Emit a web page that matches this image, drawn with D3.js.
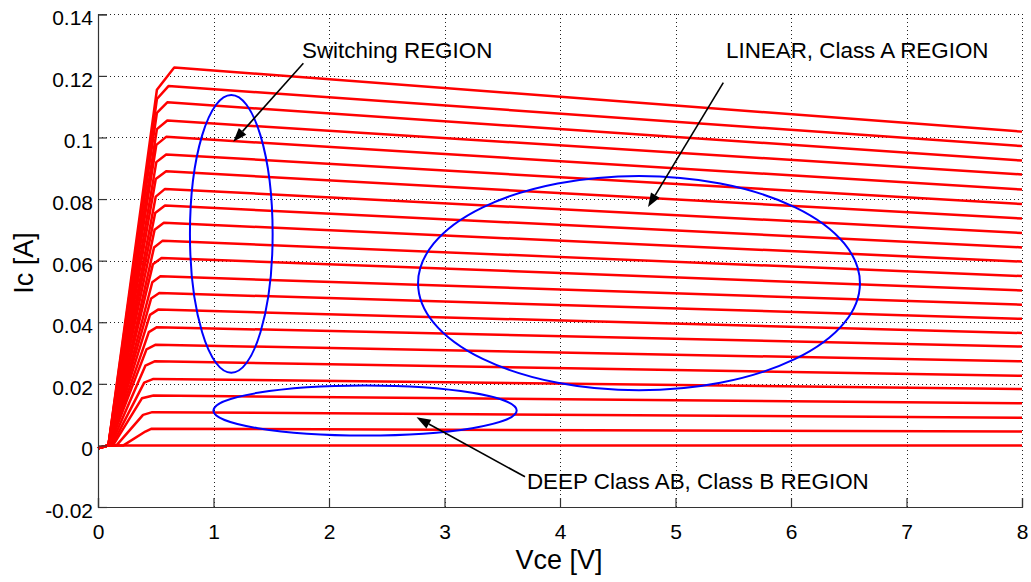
<!DOCTYPE html>
<html>
<head>
<meta charset="utf-8">
<script src="https://cdn.jsdelivr.net/npm/d3@7"></script>
<style>
  body { margin: 0; background: #fff; }
  svg { display: block; }
</style>
</head>
<body>
<div id="chart"></div>
<script>
const xTicks = [0, 1, 2, 3, 4, 5, 6, 7, 8];
const yTicks = [-0.02, 0, 0.02, 0.04, 0.06, 0.08, 0.1, 0.12, 0.14];

// leakage bit near the origin, shared by every curve
const leakV = [0, 0.09];
const leakI = [-0.0009, 0];

// one entry per base-current step (bottom to top)
const vStart = [0.22, 0.16, 0.13, 0.12, 0.11, 0.10, 0.10, 0.10, 0.10, 0.10, 0.10,
                0.10, 0.095, 0.095, 0.095, 0.095, 0.09, 0.09, 0.09, 0.09, 0.09, 0.09];
const vBend  = [0.41, 0.39, 0.38, 0.40, 0.41, 0.42, 0.44, 0.45, 0.46, 0.47, 0.475,
                0.485, 0.49, 0.495, 0.50, 0.50, 0.505, 0.505, 0.51, 0.51, 0.51, 0.51];
const icBend = [0.0045, 0.0099, 0.0153, 0.0204, 0.0259, 0.0312, 0.0368, 0.0424, 0.0477, 0.0530, 0.0588,
                0.0643, 0.0700, 0.0755, 0.0808, 0.0865, 0.0920, 0.0976, 0.1027, 0.1080, 0.1125, 0.1155];
const vFlat  = [0.46, 0.47, 0.48, 0.48, 0.49, 0.50, 0.51, 0.52, 0.53, 0.54, 0.55,
                0.56, 0.57, 0.58, 0.58, 0.59, 0.59, 0.59, 0.60, 0.60, 0.61, 0.66];
const icFlat = [0.0054, 0.0108, 0.0162, 0.0216, 0.0273, 0.0327, 0.0384, 0.0441, 0.0495, 0.0549, 0.0609,
                0.0665, 0.0723, 0.0779, 0.0833, 0.0890, 0.0945, 0.1002, 0.1055, 0.1114, 0.1167, 0.1227];
const icEnd  = [0.0045, 0.0090, 0.0137, 0.0183, 0.0226, 0.0273, 0.0321, 0.0365, 0.0411, 0.0457, 0.0503,
                0.0550, 0.0597, 0.0643, 0.0690, 0.0737, 0.0784, 0.0831, 0.0880, 0.0925, 0.0972, 0.1019];
const vEnd = 8;

// annotations, in data units (V, A)
const regions = [
  { cx: 1.154, cy: 0.0687, rx: 0.358, ry: 0.0451 },
  { cx: 4.684, cy: 0.0527, rx: 1.913, ry: 0.0348 },
  { cx: 2.312, cy: 0.01133, rx: 1.313, ry: 0.00812 }
];
const arrows = [
  { from: [1.778, 0.1241], to: [1.171, 0.0986] },
  { from: [5.414, 0.1178], to: [4.762, 0.0774] },
  { from: [3.697, -0.0102], to: [2.758, 0.00913] }
];
const notes = [
  { text: "Switching REGION", at: [1.766, 0.1258] },
  { text: "LINEAR, Class A REGION", at: [5.437, 0.1258] },
  { text: "DEEP Class AB, Class B REGION", at: [3.714, -0.01426] }
];

const width = 1031, height = 582;
const margin = { top: 14.3, right: 9, bottom: 75, left: 98 };
const font = "'Liberation Sans', Arial, Helvetica, sans-serif";

const x = d3.scaleLinear().domain([0, 8]).range([margin.left, width - margin.right]);
const y = d3.scaleLinear().domain([-0.02, 0.14]).range([height - margin.bottom, margin.top]);

const svg = d3.select("#chart")
  .append("svg")
  .attr("width", width)
  .attr("height", height)
  .style("font-family", font);

// dotted grid
const grid = svg.append("g")
  .attr("stroke", "#222")
  .attr("stroke-width", 1)
  .attr("stroke-dasharray", "1,3")
  .attr("shape-rendering", "crispEdges");

grid.selectAll("line.gx")
  .data(xTicks.filter(d => d > 0))
  .join("line")
  .attr("x1", d => Math.round(x(d)) + 0.5).attr("x2", d => Math.round(x(d)) + 0.5)
  .attr("y1", y(-0.02)).attr("y2", y(0.14));

grid.selectAll("line.gy")
  .data(yTicks.filter(d => d > -0.02))
  .join("line")
  .attr("y1", d => Math.round(y(d)) + 0.5).attr("y2", d => Math.round(y(d)) + 0.5)
  .attr("x1", x(0)).attr("x2", x(8));

// curves
const line = d3.line().x(d => x(d[0])).y(d => y(d[1]));
const curves = [[[leakV[0], leakI[0]], [leakV[1], leakI[1]], [vEnd, 0]]];
icFlat.forEach((ic, i) => {
  curves.push([
    [leakV[0], leakI[0]], [leakV[1], leakI[1]],
    [vStart[i], 0], [vBend[i], icBend[i]], [vFlat[i], ic], [vEnd, icEnd[i]]
  ]);
});

svg.append("g")
  .selectAll("path")
  .data(curves)
  .join("path")
  .attr("d", line)
  .attr("fill", "none")
  .attr("stroke", "#ff0000")
  .attr("stroke-width", 2.5)
  .attr("stroke-linejoin", "round");

// axes (left and bottom only, ticks inside)
const xAxis = d3.axisBottom(x).tickValues(xTicks).tickSize(-9).tickPadding(17)
  .tickFormat(d3.format("d"));
const yAxis = d3.axisLeft(y).tickValues(yTicks).tickSize(-9).tickPadding(5)
  .tickFormat(d => d === 0 ? "0" : String(+d.toFixed(2)));

const gx = svg.append("g")
  .attr("transform", `translate(0,${y(-0.02)})`)
  .call(xAxis);
const gy = svg.append("g")
  .attr("transform", `translate(${x(0)},0)`)
  .call(yAxis);

[gx, gy].forEach(g => {
  g.select(".domain").attr("stroke", "#333").attr("stroke-width", 1.2);
  g.selectAll(".tick line").attr("stroke", "#333").attr("stroke-width", 1.2);
  g.selectAll(".tick text")
    .attr("fill", "#000")
    .style("font-family", font)
    .style("font-size", "21px");
});
gy.selectAll(".tick text").attr("dy", "0.5em");
gx.selectAll(".tick text").attr("dy", "0.71em");

// region ellipses
svg.append("g")
  .selectAll("ellipse")
  .data(regions)
  .join("ellipse")
  .attr("cx", d => x(d.cx))
  .attr("cy", d => y(d.cy))
  .attr("rx", d => x(d.cx + d.rx) - x(d.cx))
  .attr("ry", d => y(d.cy) - y(d.cy + d.ry))
  .attr("fill", "none")
  .attr("stroke", "#0000ff")
  .attr("stroke-width", 2);

// arrows
const ga = svg.append("g");
arrows.forEach(a => {
  const x1 = x(a.from[0]), y1 = y(a.from[1]);
  const x2 = x(a.to[0]), y2 = y(a.to[1]);
  const ang = Math.atan2(y2 - y1, x2 - x1);
  const len = 14, half = 5;
  const bx = x2 - len * Math.cos(ang), by = y2 - len * Math.sin(ang);
  ga.append("line")
    .attr("x1", x1).attr("y1", y1)
    .attr("x2", bx).attr("y2", by)
    .attr("stroke", "#000")
    .attr("stroke-width", 1.6);
  const head = [
    [x2, y2],
    [bx + half * Math.sin(ang), by - half * Math.cos(ang)],
    [bx - half * Math.sin(ang), by + half * Math.cos(ang)]
  ];
  ga.append("path")
    .attr("d", d3.line()(head) + "Z")
    .attr("fill", "#000");
});

// annotation text
svg.append("g")
  .selectAll("text")
  .data(notes)
  .join("text")
  .attr("x", d => x(d.at[0]))
  .attr("y", d => y(d.at[1]))
  .attr("font-size", "22.4px")
  .attr("fill", "#000")
  .text(d => d.text);

// axis titles
svg.append("text")
  .attr("x", 559)
  .attr("y", 569)
  .attr("text-anchor", "middle")
  .attr("font-size", "27px")
  .text("Vce [V]");

svg.append("text")
  .attr("transform", "translate(33,263) rotate(-90)")
  .attr("text-anchor", "middle")
  .attr("font-size", "27px")
  .text("Ic [A]");
</script>
</body>
</html>
